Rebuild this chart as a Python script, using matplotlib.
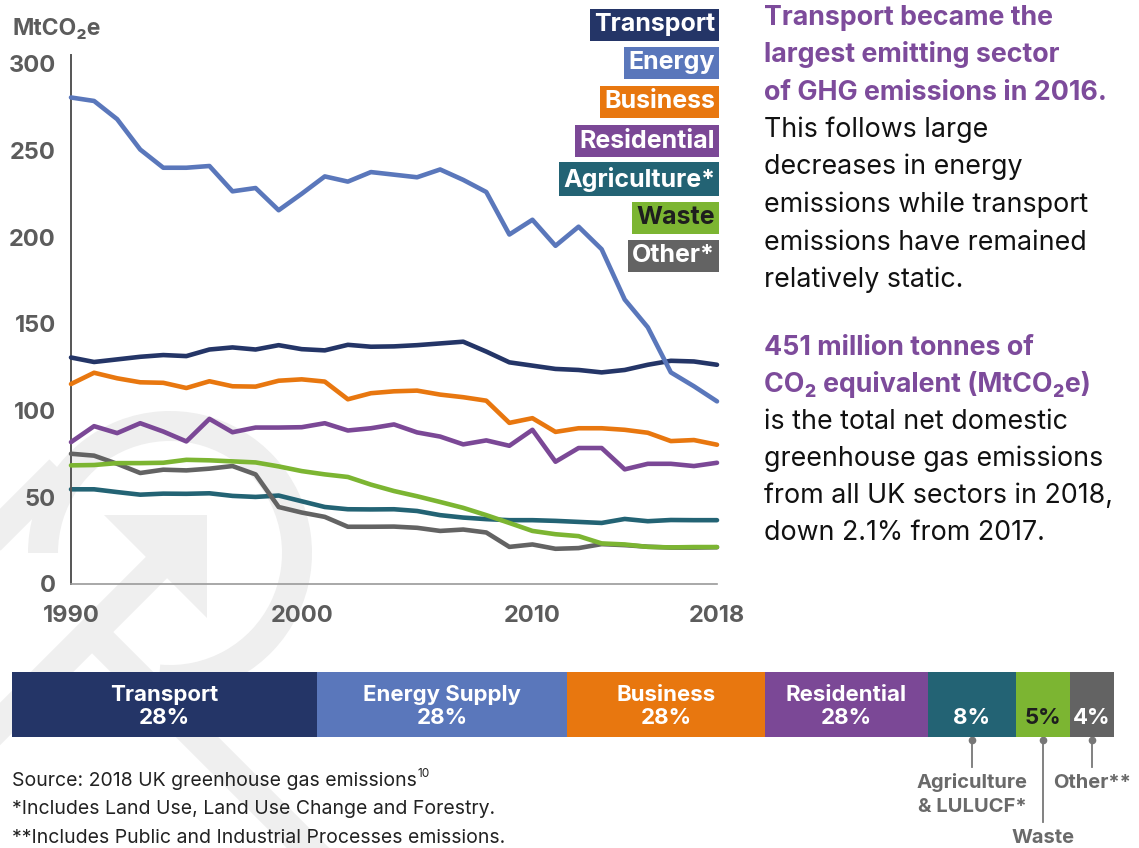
import matplotlib
matplotlib.use('Agg')
import matplotlib.pyplot as plt
from matplotlib.patches import Wedge, Polygon
import numpy as np

plt.rcParams['font.family'] = ['Inter', 'DejaVu Sans']

# ---------------- data ----------------
years = list(range(1990, 2019))
transport = [130.6, 128, 129.5, 131, 132, 131.4, 135.2, 136.4, 135.2, 137.7, 135.4, 134.7, 137.9, 136.8,
             137, 137.7, 138.7, 139.7, 134, 127.8, 125.9, 124, 123.4, 122, 123.4, 126.4, 128.7, 128.3, 126.4]
energy = [280.5, 278.5, 268, 250.5, 240, 240, 241, 226.4, 228.3, 215.5, 225, 235, 232, 237.5,
          236, 234.5, 239, 233, 226, 201.5, 210, 195, 206, 193, 164, 148, 122, 114, 105.3]
business = [115.3, 121.8, 118.6, 116.3, 116, 113, 116.9, 114, 113.8, 117.2, 118, 116.7, 106.5, 110,
            111.1, 111.5, 109.2, 107.7, 105.7, 92.9, 95.6, 87.7, 89.8, 89.8, 88.9, 87.2, 82.4, 83, 80.3]
residential = [81.8, 91, 87, 92.7, 87.9, 82.2, 95.2, 87.5, 90.2, 90.2, 90.4, 92.7, 88.5, 89.8,
               92, 87.4, 85, 80.5, 82.8, 79.7, 88.9, 70.5, 78.4, 78.4, 66.1, 69.3, 69.3, 68, 69.9]
agriculture = [54.6, 54.6, 53, 51.5, 52.1, 52, 52.3, 50.8, 50.2, 51, 47.7, 44.4, 43.1, 43,
               43.1, 42.1, 39.7, 38.3, 37.4, 36.8, 36.8, 36.4, 35.8, 35.2, 37.5, 36.2, 36.9, 36.8, 36.8]
waste = [68.4, 68.6, 69.7, 69.7, 69.9, 71.6, 71.3, 70.7, 70.1, 67.8, 65.1, 63.2, 61.7, 57.3,
         53.6, 50.6, 47.3, 43.9, 39.7, 35.2, 30.6, 28.7, 27.6, 23.4, 22.8, 21.4, 21.1, 21.3, 21.3]
other = [75.1, 74, 69.3, 64, 65.9, 65.5, 66.5, 68, 63.2, 44.4, 41.2, 38.7, 33, 33,
         33.1, 32.4, 30.6, 31.4, 29.7, 21.4, 22.8, 20.3, 20.7, 23, 22.4, 21.5, 21, 21, 21.2]

series_names = ['Transport', 'Energy', 'Business', 'Residential', 'Agriculture*', 'Waste', 'Other*']
series_values = [transport, energy, business, residential, agriculture, waste, other]

y_ticks = [0, 50, 100, 150, 200, 250, 300]
x_ticks = [1990, 2000, 2010, 2018]

bar_names = ['Transport', 'Energy Supply', 'Business', 'Residential', 'Agriculture\n& LULUCF*', 'Waste', 'Other**']
bar_shares = [27.7, 22.7, 17.9, 14.8, 8.0, 4.9, 4.0]
bar_labels = ['28%', '28%', '28%', '28%', '8%', '5%', '4%']

# ---------------- style ----------------
colors = ['#243567', '#5a77bb', '#e8770f', '#7b4896', '#236374', '#7cb532', '#636363']
legend_text_colors = ['white', 'white', 'white', 'white', 'white', '#1e1e1e', 'white']
zorders = [6, 7, 5, 4, 2, 3.6, 3]
purple = '#7d4b9b'
grey_txt = '#5c5c5c'

W, H = 1139, 848
fig = plt.figure(figsize=(W / 100, H / 100), dpi=100)


def fx(x):
    return x / W


def fy(y):
    return 1 - y / H


# ---------------- watermark background ----------------
bg = fig.add_axes([0, 0, 1, 1], zorder=0)
bg.set_xlim(0, W)
bg.set_ylim(H, 0)
bg.axis('off')
wm = '#efefef'
bg.add_patch(Wedge((170, 553), 142, 180, 455, width=30, color=wm, lw=0))
bg.add_patch(Polygon([(104, 515), (207, 515), (207, 618)], closed=True, color=wm, lw=0))
d = 15 / np.sqrt(2)
p0, p1 = np.array([168, 556]), np.array([-40, 764])
bg.add_patch(Polygon([p0 + [d, d], p0 - [d, d], p1 - [d, d], p1 + [d, d]], closed=True, color=wm, lw=0))
q0, q1 = np.array([100, 640]), np.array([320, 860])
bg.add_patch(Polygon([q0 + [d, -d], q0 - [d, -d], q1 - [d, -d], q1 + [d, -d]], closed=True, color=wm, lw=0))
r0, r1 = np.array([-10, 540]), np.array([60, 470])
bg.add_patch(Polygon([r0 + [d, d], r0 - [d, d], r1 - [d, d], r1 + [d, d]], closed=True, color=wm, lw=0))

# ---------------- line chart ----------------
ax = fig.add_axes([fx(71), fy(584), fx(717) - fx(71), (584 - 55) / H], zorder=2)
ax.set_facecolor('none')
for name, vals, c, z in zip(series_names, series_values, colors, zorders):
    ax.plot(years, vals, color=c, lw=3.3, solid_capstyle='round', solid_joinstyle='round',
            clip_on=False, zorder=z, label=name)
ax.set_xlim(1990, 2018)
ax.set_ylim(0, 305)
ax.set_yticks(y_ticks)
ax.set_xticks(x_ticks)
ax.set_xticklabels([str(t) for t in x_ticks])
ax.tick_params(length=0, labelsize=17, labelcolor=grey_txt)
ax.tick_params(axis='y', pad=11)
ax.tick_params(axis='x', pad=15)
for lab in ax.get_xticklabels() + ax.get_yticklabels():
    lab.set_fontweight('bold')
for s in ['top', 'right']:
    ax.spines[s].set_visible(False)
ax.spines['left'].set_color('#555555')
ax.spines['left'].set_linewidth(1.4)
ax.spines['bottom'].set_color('#9a9a9a')
ax.spines['bottom'].set_linewidth(1.2)

fig.text(fx(12), fy(35), 'MtCO\u2082e', fontsize=16.5, fontweight='bold', color=grey_txt, va='baseline')

# legend boxes
leg_y = [25, 63, 102, 141, 179, 218, 256]
for name, c, tc, yy in zip(series_names, colors, legend_text_colors, leg_y):
    fig.text(fx(715), fy(yy), name, ha='right', va='center', fontsize=18, fontweight='bold', color=tc,
             bbox=dict(boxstyle='square,pad=0.17', fc=c, ec='none'), zorder=10)

# ---------------- right text ----------------
x0 = fx(764)
head1 = ['Transport became the', 'largest emitting sector', 'of GHG emissions in 2016.']
body1 = ['This follows large', 'decreases in energy', 'emissions while transport',
         'emissions have remained', 'relatively static.']
head2 = ['451 million tonnes of', 'CO\u2082 equivalent (MtCO\u2082e)']
body2 = ['is the total net domestic', 'greenhouse gas emissions', 'from all UK sectors in 2018,',
         'down 2.1% from 2017.']
fs_r = 19.3
for i, t in enumerate(head1):
    fig.text(x0, fy(25 + 37.5 * i), t, fontsize=fs_r, fontweight='bold', color=purple, va='baseline')
for i, t in enumerate(body1):
    fig.text(x0, fy(137 + 37.5 * i), t, fontsize=fs_r, color='#111111', va='baseline')
for i, t in enumerate(head2):
    fig.text(x0, fy(355 + 37 * i), t, fontsize=fs_r, fontweight='bold', color=purple, va='baseline')
for i, t in enumerate(body2):
    fig.text(x0, fy(429 + 37 * i), t, fontsize=fs_r, color='#111111', va='baseline')

# ---------------- share bar ----------------
bx0, bx1 = 12, 1114
bax = fig.add_axes([fx(bx0), fy(737), fx(bx1) - fx(bx0), (737 - 672) / H], zorder=3)
lefts = np.concatenate([[0], np.cumsum(bar_shares)[:-1]])
total = float(np.sum(bar_shares))
bax.barh(0, bar_shares, left=lefts, height=1, color=colors, lw=0)
bax.set_xlim(0, total)
bax.set_ylim(-0.5, 0.5)
bax.axis('off')

centers_px = [bx0 + (l + w / 2) / total * (bx1 - bx0) for l, w in zip(lefts, bar_shares)]
for i, (nm, lab, cx) in enumerate(zip(bar_names, bar_labels, centers_px)):
    tc = legend_text_colors[i]
    if i < 4:
        fig.text(fx(cx), fy(701), nm, ha='center', va='baseline', fontsize=16, fontweight='bold',
                 color=tc, zorder=10)
    fig.text(fx(cx), fy(724), lab, ha='center', va='baseline', fontsize=16, fontweight='bold',
             color=tc, zorder=10)

# leaders for small segments
leader_ends = [767, 822, 767]
label_base = [(788, 811.5), (843,), (788,)]
for k, i in enumerate([4, 5, 6]):
    cx = centers_px[i]
    bg.plot([cx, cx], [739, leader_ends[k]], color='#777777', lw=1.3, zorder=5)
    bg.plot([cx], [739.5], 'o', color='#777777', ms=4.5, zorder=5)
    for line, yb in zip(bar_names[i].split('\n'), label_base[k]):
        fig.text(fx(cx), fy(yb), line, ha='center', va='baseline', fontsize=14.5, fontweight='bold',
                 color='#6a6a6a')

# footnotes
notes = ['Source: 2018 UK greenhouse gas emissions',
         '*Includes Land Use, Land Use Change and Forestry.',
         '**Includes Public and Industrial Processes emissions.']
note_texts = []
for i, t in enumerate(notes):
    note_texts.append(fig.text(fx(12), fy(786 + 28.5 * i), t, fontsize=14, color='#222222', va='baseline'))
fig.canvas.draw()
ext = note_texts[0].get_window_extent(renderer=fig.canvas.get_renderer())
fig.text(ext.x1 / W + 1 / W, fy(777), '10', fontsize=8.5, color='#222222', va='baseline')

fig.savefig('out.png', dpi=100)
